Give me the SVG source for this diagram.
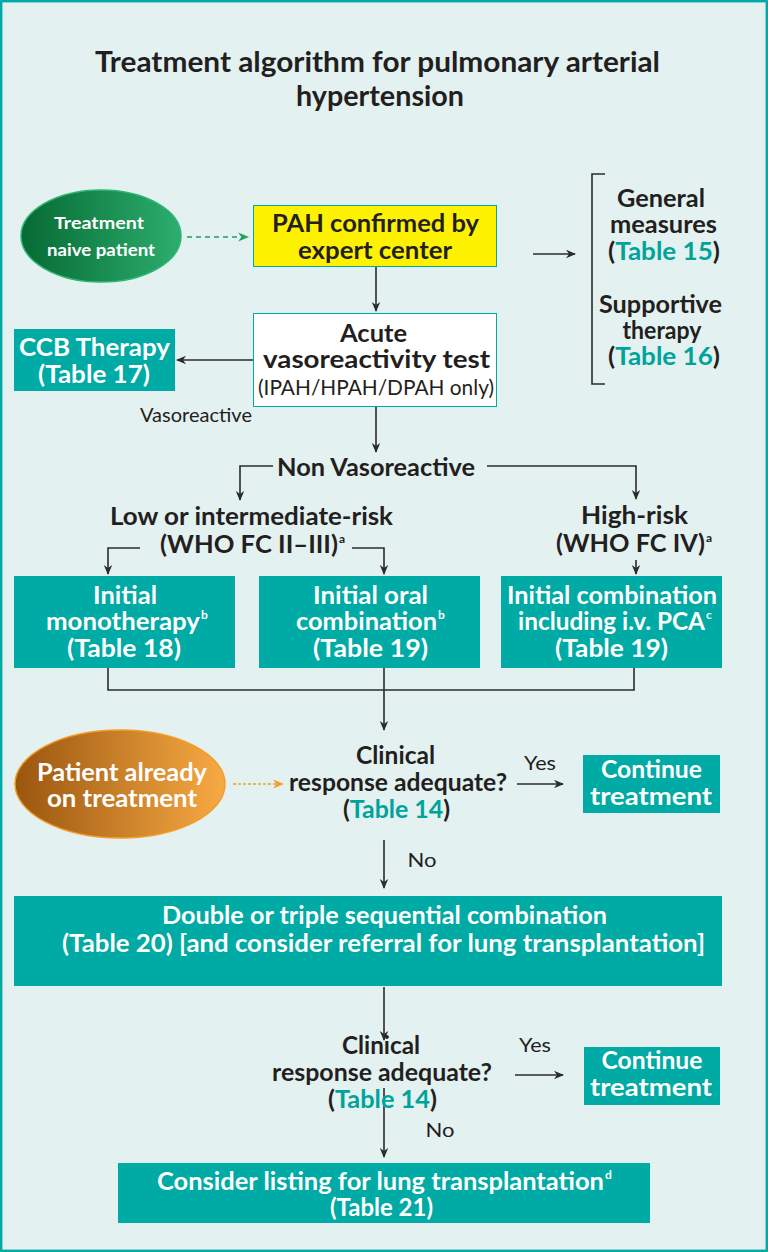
<svg xmlns="http://www.w3.org/2000/svg" width="768" height="1252" viewBox="0 0 768 1252">
<style>
.t{font-family:Lato,"Liberation Sans",sans-serif;font-weight:bold;fill:#231f20;text-anchor:middle}
.w{font-family:Lato,"Liberation Sans",sans-serif;font-weight:bold;fill:#ffffff;text-anchor:middle}
.r{font-family:Lato,"Liberation Sans",sans-serif;font-weight:normal;fill:#231f20;text-anchor:middle}
.s{text-anchor:start;font-size:12px}
.tl{fill:#00a39b}
.box{fill:#00aaa5}
.ln{fill:none;stroke:#2b2b2b;stroke-width:1.6}
</style>
<defs>
<marker id="ah" viewBox="0 0 10 10" refX="9" refY="5" markerWidth="10" markerHeight="10" markerUnits="userSpaceOnUse" orient="auto"><path d="M0,0.8 L10,5 L0,9.2 L3,5 z" fill="#2b2b2b"/></marker>
<marker id="ag" viewBox="0 0 10 10" refX="9" refY="5" markerWidth="11" markerHeight="11" markerUnits="userSpaceOnUse" orient="auto"><path d="M0,0.8 L10,5 L0,9.2 L3,5 z" fill="#22a062"/></marker>
<marker id="ao" viewBox="0 0 10 10" refX="9" refY="5" markerWidth="11" markerHeight="11" markerUnits="userSpaceOnUse" orient="auto"><path d="M0,0.8 L10,5 L0,9.2 L3,5 z" fill="#f39c29"/></marker>
<linearGradient id="gg" x1="0" y1="0" x2="1" y2="0"><stop offset="0" stop-color="#066a33"/><stop offset="1" stop-color="#2cae6e"/></linearGradient>
<linearGradient id="go" x1="0" y1="0" x2="1" y2="0"><stop offset="0" stop-color="#9a560f"/><stop offset="1" stop-color="#f8aa43"/></linearGradient>
</defs>
<rect x="1.2" y="1.2" width="765.6" height="1249.6" fill="#e3f1f0" stroke="#00aaa5" stroke-width="2.4"/>
<g id="title">
<text class="t" x="377.5" y="72" font-size="28" textLength="565" lengthAdjust="spacingAndGlyphs">Treatment algorithm for pulmonary arterial</text>
<text class="t" x="380" y="106" font-size="28" textLength="168" lengthAdjust="spacingAndGlyphs">hypertension</text>
</g>
<g id="connectors">
<path class="ln" d="M187,237 L248,237" style="stroke:#22a062;stroke-dasharray:5,4" marker-end="url(#ag)"/>
<path class="ln" d="M233,784 L283,784" style="stroke:#f39c29;stroke-dasharray:3,2" marker-end="url(#ao)"/>
<path class="ln" d="M533,254 L575,254" marker-end="url(#ah)"/>
<path class="ln" d="M605,174 L592,174 L592,384 L605,384"/>
<path class="ln" d="M376,267 L376,311" marker-end="url(#ah)"/>
<path class="ln" d="M253,360 L177,360" marker-end="url(#ah)"/>
<path class="ln" d="M376,407 L376,452" marker-end="url(#ah)"/>
<path class="ln" d="M273,466 L240,466 L240,500" marker-end="url(#ah)"/>
<path class="ln" d="M487,466 L636,466 L636,499" marker-end="url(#ah)"/>
<path class="ln" d="M140,548 L108,548 L108,574" marker-end="url(#ah)"/>
<path class="ln" d="M352,548 L384,548 L384,574" marker-end="url(#ah)"/>
<path class="ln" d="M636,560 L636,574" marker-end="url(#ah)"/>
<path class="ln" d="M108,668 L108,690 L634,690 L634,668"/>
<path class="ln" d="M384,668 L384,730" marker-end="url(#ah)"/>
<path class="ln" d="M517,784 L563,784" marker-end="url(#ah)"/>
<path class="ln" d="M384,840 L384,888" marker-end="url(#ah)"/>
<path class="ln" d="M384,987 L384,1040" marker-end="url(#ah)"/>
<path class="ln" d="M515,1075 L563,1075" marker-end="url(#ah)"/>
<path class="ln" d="M384,1088 L384,1157" marker-end="url(#ah)"/>
</g>
<g id="naive">
<ellipse cx="101" cy="236" rx="80" ry="46" fill="url(#gg)" stroke="#2bb673" stroke-width="1.5"/>
<text class="w" x="99" y="229" font-size="17" textLength="90" lengthAdjust="spacingAndGlyphs">Treatment</text>
<text class="w" x="101" y="256" font-size="17" textLength="108" lengthAdjust="spacingAndGlyphs">naive patient</text>
</g>
<g id="pah">
<rect x="253.5" y="205.5" width="243" height="61" fill="#fff200" stroke="#00aaa5" stroke-width="1"/>
<text class="t" x="375.5" y="232" font-size="24" textLength="207" lengthAdjust="spacingAndGlyphs">PAH confirmed by</text>
<text class="t" x="375" y="259" font-size="24" textLength="154" lengthAdjust="spacingAndGlyphs">expert center</text>
</g>
<g id="general">
<text class="t" x="661" y="207" font-size="24" textLength="88" lengthAdjust="spacingAndGlyphs">General</text>
<text class="t" x="663.5" y="233" font-size="24" textLength="107" lengthAdjust="spacingAndGlyphs">measures</text>
<text class="t" x="664" y="260" font-size="24" textLength="112" lengthAdjust="spacingAndGlyphs">(<tspan class="tl">Table 15</tspan>)</text>
<text class="t" x="660.5" y="313" font-size="24" textLength="123" lengthAdjust="spacingAndGlyphs">Supportive</text>
<text class="t" x="662" y="339" font-size="24" textLength="79" lengthAdjust="spacingAndGlyphs">therapy</text>
<text class="t" x="664" y="365" font-size="24" textLength="112" lengthAdjust="spacingAndGlyphs">(<tspan class="tl">Table 16</tspan>)</text>
</g>
<g id="acute">
<rect x="253.5" y="313.5" width="243" height="93" fill="#ffffff" stroke="#00aaa5" stroke-width="1"/>
<text class="t" x="373.5" y="342" font-size="24" textLength="67" lengthAdjust="spacingAndGlyphs">Acute</text>
<text class="t" x="376.5" y="368" font-size="24" textLength="227" lengthAdjust="spacingAndGlyphs">vasoreactivity test</text>
<text class="r" x="376" y="395" font-size="21" textLength="236" lengthAdjust="spacingAndGlyphs">(IPAH/HPAH/DPAH only)</text>
</g>
<g id="ccb">
<rect class="box" x="14" y="329" width="161" height="62"/>
<text class="w" x="94.5" y="356" font-size="24" textLength="151" lengthAdjust="spacingAndGlyphs">CCB Therapy</text>
<text class="w" x="94" y="383" font-size="24" textLength="112" lengthAdjust="spacingAndGlyphs">(Table 17)</text>
</g>
<g id="labels">
<text class="r" x="196" y="422" font-size="20" textLength="112" lengthAdjust="spacingAndGlyphs">Vasoreactive</text>
<text class="t" x="376" y="476" font-size="24" textLength="198" lengthAdjust="spacingAndGlyphs">Non Vasoreactive</text>
<text class="t" x="251.5" y="525" font-size="24" textLength="283" lengthAdjust="spacingAndGlyphs">Low or intermediate-risk</text>
<text class="t" x="249" y="553" font-size="24" textLength="178" lengthAdjust="spacingAndGlyphs">(WHO FC II–III)</text>
<text class="t s" x="339" y="543">a</text>
<text class="t" x="634.5" y="524" font-size="24" textLength="107" lengthAdjust="spacingAndGlyphs">High-risk</text>
<text class="t" x="630.5" y="552" font-size="24" textLength="149" lengthAdjust="spacingAndGlyphs">(WHO FC IV)</text>
<text class="t s" x="706" y="542">a</text>
</g>
<g id="mono">
<rect class="box" x="14" y="576" width="221" height="92"/>
<text class="w" x="125" y="604" font-size="24" textLength="64" lengthAdjust="spacingAndGlyphs">Initial</text>
<text class="w" x="123" y="630" font-size="24" textLength="154" lengthAdjust="spacingAndGlyphs">monotherapy</text>
<text class="w s" x="201" y="619">b</text>
<text class="w" x="124" y="657" font-size="24" textLength="114" lengthAdjust="spacingAndGlyphs">(Table 18)</text>
</g>
<g id="oral">
<rect class="box" x="259" y="576" width="221" height="92"/>
<text class="w" x="370.5" y="604" font-size="24" textLength="115" lengthAdjust="spacingAndGlyphs">Initial oral</text>
<text class="w" x="366.5" y="630" font-size="24" textLength="141" lengthAdjust="spacingAndGlyphs">combination</text>
<text class="w s" x="438" y="619">b</text>
<text class="w" x="370.5" y="657" font-size="24" textLength="115" lengthAdjust="spacingAndGlyphs">(Table 19)</text>
</g>
<g id="ivpca">
<rect class="box" x="501" y="576" width="221" height="92"/>
<text class="w" x="612" y="604" font-size="24" textLength="210" lengthAdjust="spacingAndGlyphs">Initial combination</text>
<text class="w" x="611.5" y="630" font-size="24" textLength="187" lengthAdjust="spacingAndGlyphs">including i.v. PCA</text>
<text class="w s" x="706" y="619">c</text>
<text class="w" x="611.5" y="657" font-size="24" textLength="113" lengthAdjust="spacingAndGlyphs">(Table 19)</text>
</g>
<g id="already">
<ellipse cx="120" cy="784" rx="105" ry="54" fill="url(#go)" stroke="#f39c29" stroke-width="1.5"/>
<text class="w" x="122" y="781" font-size="24" textLength="170" lengthAdjust="spacingAndGlyphs">Patient already</text>
<text class="w" x="122" y="807" font-size="24" textLength="150" lengthAdjust="spacingAndGlyphs">on treatment</text>
</g>
<g id="clinical1">
<text class="t" x="395.5" y="764" font-size="24" textLength="79" lengthAdjust="spacingAndGlyphs">Clinical</text>
<text class="t" x="398" y="791" font-size="24" textLength="218" lengthAdjust="spacingAndGlyphs">response adequate?</text>
<text class="t" x="396.5" y="818" font-size="24" textLength="107" lengthAdjust="spacingAndGlyphs">(<tspan class="tl">Table 14</tspan>)</text>
</g>
<text class="r" x="540" y="770" font-size="20" textLength="32" lengthAdjust="spacingAndGlyphs">Yes</text>
<g id="continue1">
<rect class="box" x="583" y="755" width="137" height="58"/>
<text class="w" x="651.5" y="778" font-size="24" textLength="101" lengthAdjust="spacingAndGlyphs">Continue</text>
<text class="w" x="651" y="805" font-size="24" textLength="122" lengthAdjust="spacingAndGlyphs">treatment</text>
</g>
<text class="r" x="422" y="867" font-size="20" textLength="29" lengthAdjust="spacingAndGlyphs">No</text>
<g id="sequential">
<rect class="box" x="14" y="896" width="708" height="90"/>
<text class="w" x="384.5" y="924" font-size="24" textLength="445" lengthAdjust="spacingAndGlyphs">Double or triple sequential combination</text>
<text class="w" x="383.5" y="952" font-size="24" textLength="643" lengthAdjust="spacingAndGlyphs">(Table 20) [and consider referral for lung transplantation]</text>
</g>
<g id="clinical2">
<text class="t" x="381" y="1054" font-size="24" textLength="78" lengthAdjust="spacingAndGlyphs">Clinical</text>
<text class="t" x="382" y="1081" font-size="24" textLength="220" lengthAdjust="spacingAndGlyphs">response adequate?</text>
<text class="t" x="382.5" y="1108" font-size="24" textLength="109" lengthAdjust="spacingAndGlyphs">(<tspan class="tl">Table 14</tspan>)</text>
</g>
<text class="r" x="535" y="1052" font-size="20" textLength="32" lengthAdjust="spacingAndGlyphs">Yes</text>
<g id="continue2">
<rect class="box" x="584" y="1047" width="136" height="58"/>
<text class="w" x="652" y="1069" font-size="24" textLength="101" lengthAdjust="spacingAndGlyphs">Continue</text>
<text class="w" x="651" y="1096" font-size="24" textLength="122" lengthAdjust="spacingAndGlyphs">treatment</text>
</g>
<text class="r" x="440" y="1137" font-size="20" textLength="29" lengthAdjust="spacingAndGlyphs">No</text>
<g id="listing">
<rect class="box" x="118" y="1163" width="532" height="60"/>
<text class="w" x="380.5" y="1190" font-size="24" textLength="447" lengthAdjust="spacingAndGlyphs">Consider listing for lung transplantation</text>
<text class="w s" x="605" y="1179">d</text>
<text class="w" x="381.5" y="1216" font-size="24" textLength="103" lengthAdjust="spacingAndGlyphs">(Table 21)</text>
</g>
</svg>
